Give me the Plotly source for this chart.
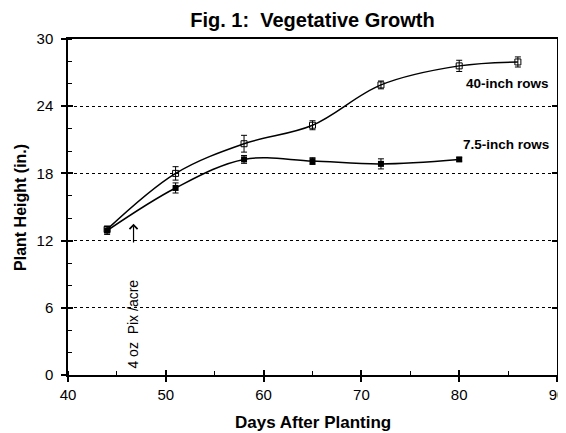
import plotly.graph_objects as go

days_40 = [44, 51, 58, 65, 72, 80, 86]
height_40 = [13.0, 18.0, 20.65, 22.3, 25.9, 27.6, 27.95]
err_40 = [0.3, 0.6, 0.75, 0.4, 0.35, 0.5, 0.45]

days_75 = [44, 51, 58, 65, 72, 80]
height_75 = [12.9, 16.7, 19.25, 19.1, 18.85, 19.25]
err_75 = [0.35, 0.45, 0.35, 0.3, 0.45, 0.15]

x_ticks = [40, 50, 60, 70, 80, 90]
y_ticks = [0, 6, 12, 18, 24, 30]

FONT = "Arial, Liberation Sans, sans-serif"

fig = go.Figure()
fig.add_trace(go.Scatter(
    x=days_40, y=height_40, mode="lines+markers",
    line=dict(color="black", width=1.5, shape="spline", smoothing=1.0),
    marker=dict(symbol="square-open", size=6, color="black", line=dict(width=1)),
    error_y=dict(type="data", array=err_40, color="black", thickness=1, width=3),
    showlegend=False, cliponaxis=False))
fig.add_trace(go.Scatter(
    x=days_75, y=height_75, mode="lines+markers",
    line=dict(color="black", width=1.5, shape="spline", smoothing=1.0),
    marker=dict(symbol="square", size=6, color="black"),
    error_y=dict(type="data", array=err_75, color="black", thickness=1, width=3),
    showlegend=False, cliponaxis=False))
# helper traces to register overlay axes (no data)
fig.add_trace(go.Scatter(x=[], y=[], xaxis="x2", yaxis="y2", showlegend=False))
fig.add_trace(go.Scatter(x=[], y=[], xaxis="x2", yaxis="y3", showlegend=False))

axis_common = dict(showline=True, linecolor="black", linewidth=1.5,
                   tickcolor="black", zeroline=False, automargin=False,
                   ticklabeloverflow="allow")
overlay_common = dict(ticks="inside", ticklen=5, tickwidth=1.5, tickcolor="black",
                      showticklabels=False, showgrid=False, zeroline=False,
                      showline=False, automargin=False)

# the page body adds an 8px offset, so the figure is sized/shifted to compensate
W, H = 558, 425
fig.update_layout(
    width=W, height=H,
    paper_bgcolor="white", plot_bgcolor="white",
    margin=dict(l=60, r=9, t=31, b=58, autoexpand=False),
    font=dict(family=FONT, size=15, color="black"),
    title=dict(text="<b>Fig. 1:&nbsp; Vegetative Growth</b>", x=0.5, xref="paper",
               xanchor="center", y=1 - 12 / H, yanchor="middle",
               font=dict(size=20, family=FONT)),
    xaxis=dict(range=[40, 90], tickvals=x_ticks, ticks="outside", ticklen=5,
               tickwidth=1.5, mirror=True, showgrid=False,
               minor=dict(dtick=5, tick0=40, ticks="inside", ticklen=4, tickcolor="black", tickwidth=1),
               tickfont=dict(size=15), **axis_common),
    yaxis=dict(range=[0, 30], tickvals=y_ticks, ticks="outside", ticklen=5,
               tickwidth=1.5, mirror=True, ticklabelstandoff=5,
               showgrid=True, gridcolor="black", griddash="dot", gridwidth=1,
               minor=dict(dtick=2, tick0=0, ticks="inside", ticklen=4, tickcolor="black", tickwidth=1, showgrid=False),
               tickfont=dict(size=15), **axis_common),
    xaxis2=dict(range=[40, 90], overlaying="x", anchor="y", side="bottom",
                tickvals=x_ticks, **overlay_common),
    yaxis2=dict(range=[0, 30], overlaying="y", anchor="x", side="left",
                tickvals=y_ticks, **overlay_common),
    yaxis3=dict(range=[0, 30], overlaying="y", anchor="x", side="right",
                tickvals=y_ticks, **overlay_common),
)

# axis titles
fig.add_annotation(x=0.5, y=-0.14, xref="paper", yref="paper",
                   text="<b>Days After Planting</b>", showarrow=False,
                   xanchor="center", yanchor="middle", font=dict(size=17, family=FONT))
fig.add_annotation(x=-0.0982, y=0.5, xref="paper", yref="paper",
                   text="<b>Plant Height (in.)</b>", showarrow=False, textangle=-90,
                   xanchor="center", yanchor="middle", font=dict(size=16, family=FONT))

fig.add_annotation(x=89.4, y=26.0, xref="x", yref="y", text="<b>40-inch rows</b>",
                   showarrow=False, xanchor="right", yanchor="middle",
                   font=dict(size=13.5, family=FONT))
fig.add_annotation(x=89.4, y=20.6, xref="x", yref="y", text="<b>7.5-inch rows</b>",
                   showarrow=False, xanchor="right", yanchor="middle",
                   font=dict(size=13.5, family=FONT))
# Pix application arrow
fig.add_annotation(x=46.7, y=13.5, ax=46.7, ay=11.7, xref="x", yref="y",
                   axref="x", ayref="y", text="", showarrow=True,
                   arrowhead=4, arrowsize=1.3, arrowwidth=1.2, arrowcolor="black")
fig.add_annotation(x=46.7, y=4.55, xref="x", yref="y", text="4 oz&nbsp; Pix /acre",
                   textangle=-90, showarrow=False, xanchor="center", yanchor="middle",
                   font=dict(size=14, family=FONT))

fig.write_html("out.html")
